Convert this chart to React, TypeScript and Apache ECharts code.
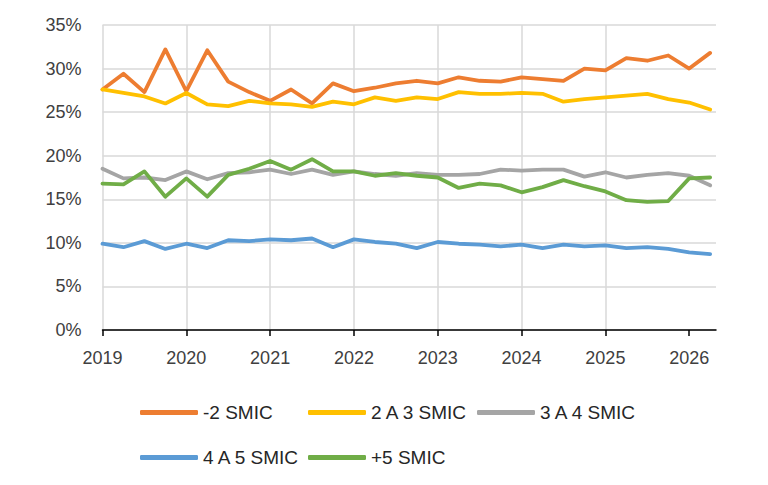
import React, { useEffect, useRef } from "react";
import * as echarts from "echarts";

// Quarterly observation dates (decimal years)
const quarterDates = [
  2019, 2019.25, 2019.5, 2019.75, 2020, 2020.25, 2020.5, 2020.75,
  2021, 2021.25, 2021.5, 2021.75, 2022, 2022.25, 2022.5, 2022.75,
  2023, 2023.25, 2023.5, 2023.75, 2024, 2024.25, 2024.5, 2024.75,
  2025, 2025.25, 2025.5, 2025.75, 2026, 2026.25,
];

const yearTicks = [2019, 2020, 2021, 2022, 2023, 2024, 2025, 2026];

// Shares (%) by wage bracket
const moins2Smic = [
  27.6, 29.4, 27.3, 32.2, 27.4, 32.1, 28.5, 27.3, 26.3, 27.6, 26.0, 28.3, 27.4, 27.8, 28.3,
  28.6, 28.3, 29.0, 28.6, 28.5, 29.0, 28.8, 28.6, 30.0, 29.8, 31.2, 30.9, 31.5, 30.0, 31.8,
];
const de2a3Smic = [
  27.6, 27.2, 26.8, 26.0, 27.2, 25.9, 25.7, 26.3, 26.0, 25.9, 25.6, 26.2, 25.9, 26.7, 26.3,
  26.7, 26.5, 27.3, 27.1, 27.1, 27.2, 27.1, 26.2, 26.5, 26.7, 26.9, 27.1, 26.5, 26.1, 25.3,
];
const de3a4Smic = [
  18.5, 17.4, 17.5, 17.2, 18.2, 17.3, 18.0, 18.1, 18.4, 17.9, 18.4, 17.8, 18.2, 17.9, 17.7,
  18.0, 17.8, 17.8, 17.9, 18.4, 18.3, 18.4, 18.4, 17.6, 18.1, 17.5, 17.8, 18.0, 17.7, 16.6,
];
const de4a5Smic = [
  9.9, 9.5, 10.2, 9.3, 9.9, 9.4, 10.3, 10.2, 10.4, 10.3, 10.5, 9.5, 10.4, 10.1, 9.9,
  9.4, 10.1, 9.9, 9.8, 9.6, 9.8, 9.4, 9.8, 9.6, 9.7, 9.4, 9.5, 9.3, 8.9, 8.7,
];
const plus5Smic = [
  16.8, 16.7, 18.2, 15.3, 17.4, 15.3, 17.8, 18.5, 19.4, 18.4, 19.6, 18.2, 18.2, 17.7, 18.0,
  17.7, 17.5, 16.3, 16.8, 16.6, 15.8, 16.4, 17.2, 16.5, 15.9, 14.9, 14.7, 14.8, 17.4, 17.5,
];

const seriesDefs = [
  { name: "-2 SMIC", values: moins2Smic, color: "#ED7D31", legendLeft: 140, legendTop: 403 },
  { name: "2 A 3 SMIC", values: de2a3Smic, color: "#FFC000", legendLeft: 308, legendTop: 403 },
  { name: "3 A 4 SMIC", values: de3a4Smic, color: "#A5A5A5", legendLeft: 477, legendTop: 403 },
  { name: "4 A 5 SMIC", values: de4a5Smic, color: "#5B9BD5", legendLeft: 140, legendTop: 448 },
  { name: "+5 SMIC", values: plus5Smic, color: "#70AD47", legendLeft: 308, legendTop: 448 },
];

const FONT = "'Liberation Sans', Arial, sans-serif";

export default function App() {
  const ref = useRef<HTMLDivElement>(null);

  useEffect(() => {
    if (!ref.current) return;
    const chart = echarts.init(ref.current, null, { renderer: "svg" });

    chart.setOption({
      animation: false,
      backgroundColor: "#ffffff",
      grid: { left: 102.5, right: 52, top: 25, bottom: 155, containLabel: false },
      xAxis: {
        type: "value",
        min: 2019,
        max: 2026.32,
        interval: 1,
        axisLine: { show: true, lineStyle: { color: "#000000", width: 1.5 } },
        axisTick: {
          show: true,
          length: 6,
          customValues: yearTicks,
          lineStyle: { color: "#000000", width: 1.5 },
        },
        axisLabel: {
          customValues: yearTicks,
          color: "#404040",
          fontSize: 18,
          fontFamily: FONT,
          margin: 19,
          formatter: (v: number) => (Number.isInteger(v) ? String(v) : ""),
        },
        splitLine: {
          show: true,
          showMaxLine: false,
          lineStyle: { color: "#D9D9D9", width: 1.5 },
        },
      },
      yAxis: {
        type: "value",
        min: 0,
        max: 35,
        interval: 5,
        axisLine: { show: false },
        axisTick: { show: false },
        axisLabel: {
          color: "#404040",
          fontSize: 18,
          fontFamily: FONT,
          margin: 21,
          formatter: "{value}%",
        },
        splitLine: { show: true, lineStyle: { color: "#D9D9D9", width: 1.5 } },
      },
      legend: seriesDefs.map((s) => ({
        data: [s.name],
        left: s.legendLeft,
        top: s.legendTop,
        padding: 0,
        icon: "roundRect",
        itemWidth: 58,
        itemHeight: 5,
        selectedMode: false,
        textStyle: { color: "#262626", fontSize: 19, fontFamily: FONT },
      })),
      series: seriesDefs.map((s) => ({
        name: s.name,
        type: "line",
        data: s.values.map((v, i) => [quarterDates[i], v]),
        symbol: "none",
        smooth: false,
        color: s.color,
        lineStyle: { color: s.color, width: 3.8, cap: "round", join: "round" },
        itemStyle: { color: s.color },
      })),
    });

    return () => chart.dispose();
  }, []);

  return (
    <div
      ref={ref}
      style={{ position: "fixed", left: 0, top: 0, width: 768, height: 485, background: "#fff" }}
    />
  );
}
